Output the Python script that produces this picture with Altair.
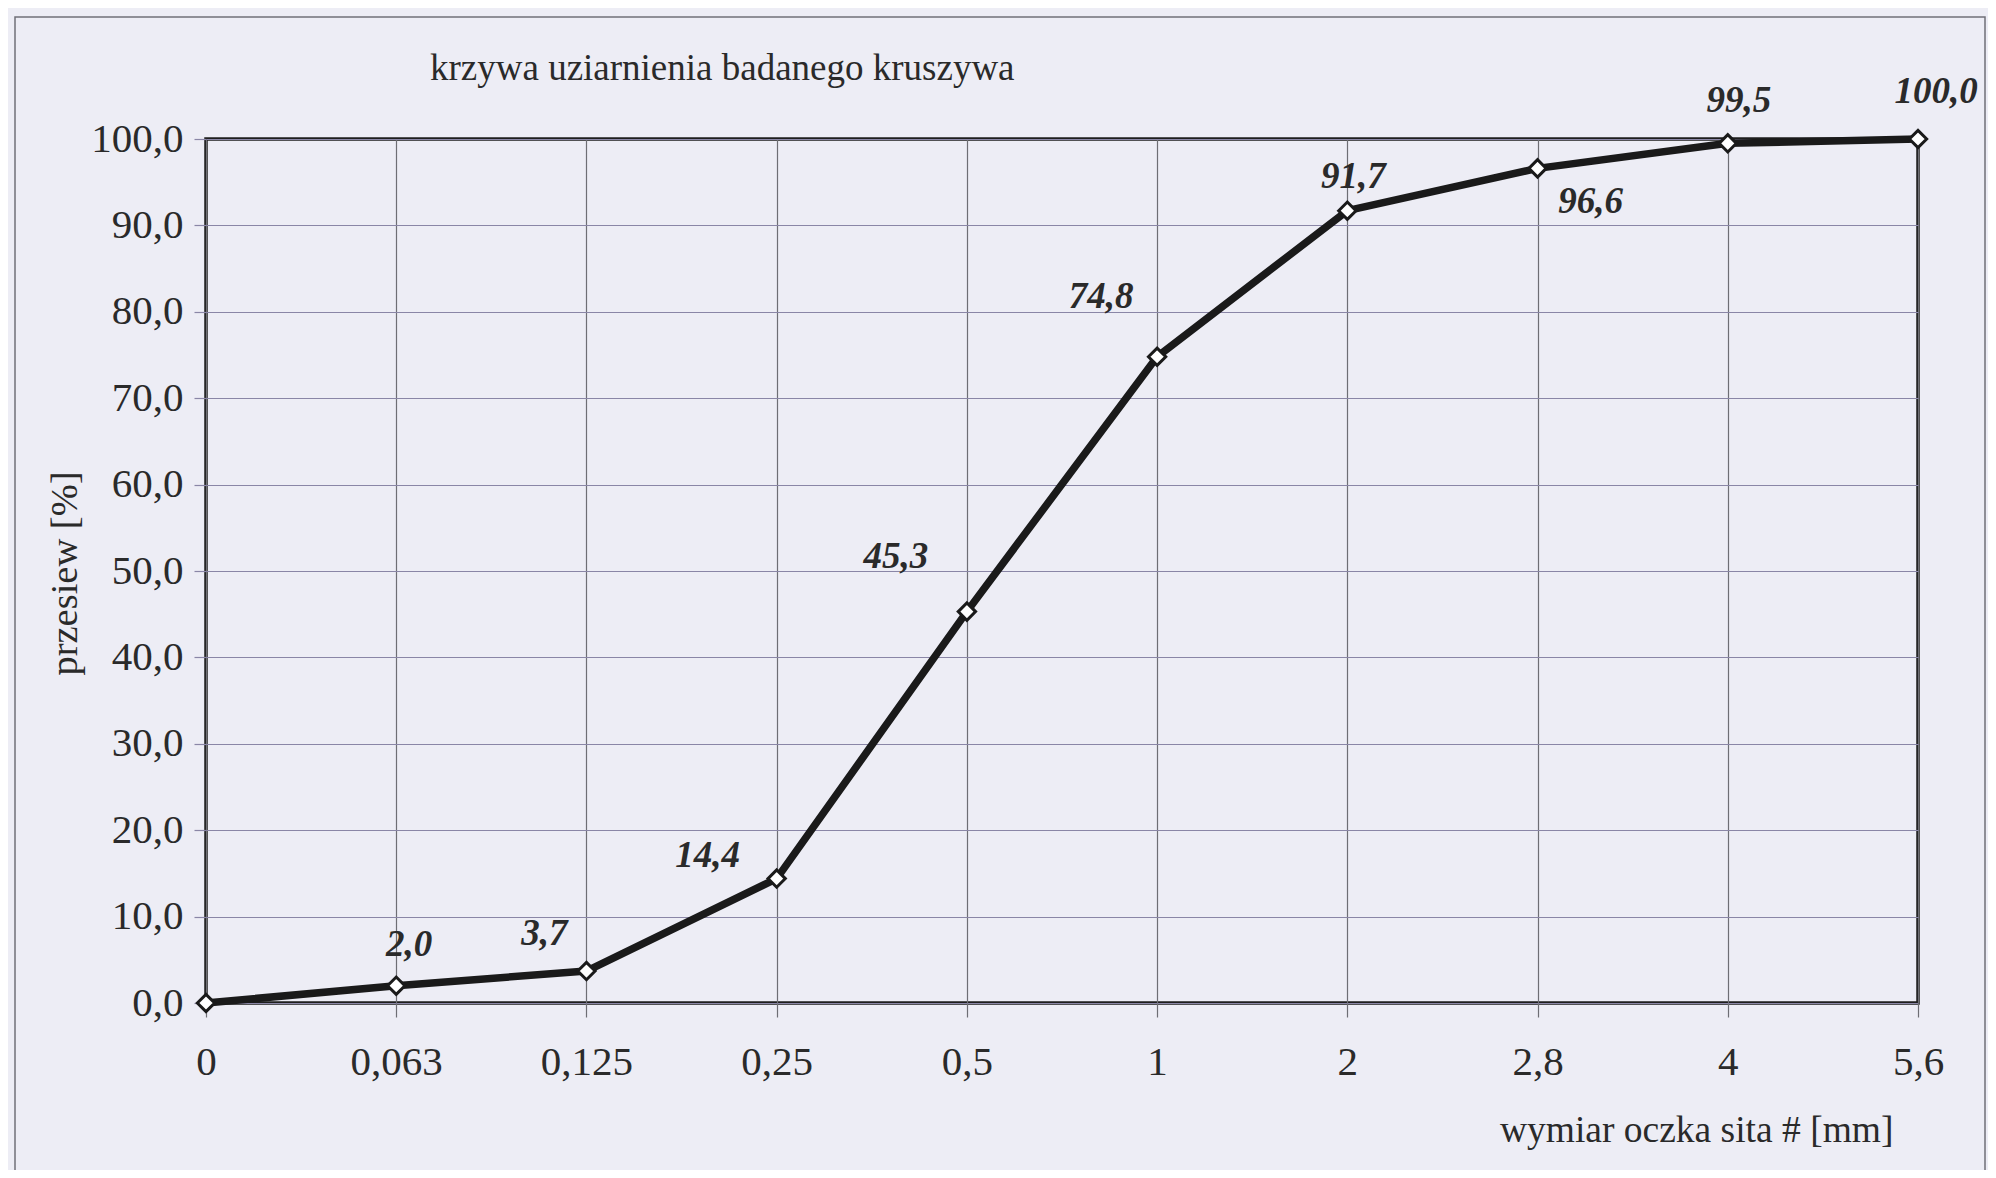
import altair as alt
import pandas as pd

# ---- data ----
sieve_sizes = ["0", "0,063", "0,125", "0,25", "0,5", "1", "2", "2,8", "4", "5,6"]
passing = [0.0, 2.0, 3.7, 14.4, 45.3, 74.8, 91.7, 96.6, 99.5, 100.0]
point_labels = ["", "2,0", "3,7", "14,4", "45,3", "74,8", "91,7", "96,6", "99,5", "100,0"]

title_text = "krzywa uziarnienia badanego kruszywa"
x_title = "wymiar oczka sita # [mm]"
y_title = "przesiew [%]"

df = pd.DataFrame({"sieve": sieve_sizes, "passing": passing, "label": point_labels})

# ---- style ----
FONT = "Liberation Serif"
W, H = 1712, 864
BG = "#ededf5"
TXT = "#2a2a2a"

# label placement (pixel offsets relative to point)
label_offsets = {
    "2,0": (13, -41),
    "3,7": (-42, -37),
    "14,4": (-69, -23),
    "45,3": (-71, -55),
    "74,8": (-56, -60),
    "91,7": (6, -34),
    "96,6": (53, 34),
    "99,5": (11, -42),
    "100,0": (18, -47),
}

x_enc = alt.X(
    "sieve:O",
    sort=sieve_sizes,
    scale=alt.Scale(type="point", padding=0),
    axis=alt.Axis(
        title=x_title,
        labelAngle=0,
        grid=True,
        gridColor="#6e6e74",
        gridWidth=1.2,
        domain=False,
        ticks=True,
        tickSize=14,
        tickColor="#6e6e74",
        tickWidth=1.2,
        labelPadding=45,
        labelBaseline="middle",
        labelFont=FONT,
        labelFontSize=41,
        labelColor=TXT,
        titleFont=FONT,
        titleFontSize=37.5,
        titleFontWeight="normal",
        titleColor=TXT,
        titleAnchor="end",
        titleAlign="right",
        titleBaseline="middle",
        titleX=1687,
        titleY=127,
    ),
)

y_enc = alt.Y(
    "passing:Q",
    scale=alt.Scale(domain=[0, 100], nice=False),
    axis=alt.Axis(
        title=y_title,
        values=list(range(0, 101, 10)),
        labelExpr="replace(format(datum.value, '.1f'), '.', ',')",
        grid=True,
        gridColor="#8a86a6",
        gridWidth=1.2,
        domain=False,
        ticks=True,
        tickSize=12,
        tickColor="#8a86a6",
        tickWidth=1.2,
        labelPadding=11,
        labelFont=FONT,
        labelFontSize=41,
        labelColor=TXT,
        titleFont=FONT,
        titleFontSize=38.5,
        titleFontWeight="normal",
        titleColor=TXT,
        titleAngle=-90,
        titleAlign="center",
        titleBaseline="middle",
        titleX=-142,
        titleY=434,
    ),
)

base = alt.Chart(df)

line = base.mark_line(color="#1a1a1a", strokeWidth=7.5, strokeJoin="round").encode(x=x_enc, y=y_enc)

points = base.mark_point(
    shape="diamond", size=300, filled=True, fill="white", stroke="#1a1a1a", strokeWidth=3, opacity=1
).encode(x=x_enc, y=y_enc)

label_layers = []
for lab, (dx, dy) in label_offsets.items():
    label_layers.append(
        base.transform_filter(alt.datum.label == lab)
        .mark_text(
            font=FONT, fontSize=37, fontStyle="italic", fontWeight="bold",
            color=TXT, dx=dx, dy=dy, align="center", baseline="middle",
        )
        .encode(x=x_enc, y=y_enc, text="label:N")
    )

one_row = pd.DataFrame({"t": [title_text]})

frame = alt.Chart(one_row).mark_rect(
    filled=False, stroke="#707078", strokeWidth=1.5
).encode(
    x=alt.value(-191), x2=alt.value(1779), y=alt.value(-122), y2=alt.value(1200)
)

title = alt.Chart(one_row).mark_text(
    font=FONT, fontSize=37, color=TXT, align="left", baseline="middle"
).encode(x=alt.value(224), y=alt.value(-70), text="t:N")

chart = alt.layer(frame, title, line, points, *label_layers).properties(
    width=W,
    height=H,
    autosize=alt.AutoSizeParams(type="none"),
    padding={"left": 198, "top": 131, "right": 70, "bottom": 167},
    background=BG,
).configure_view(
    stroke="#1e1e1e", strokeWidth=3.5, fill=BG
)

chart.save("out.html", embed_options={"renderer": "svg", "actions": False})
